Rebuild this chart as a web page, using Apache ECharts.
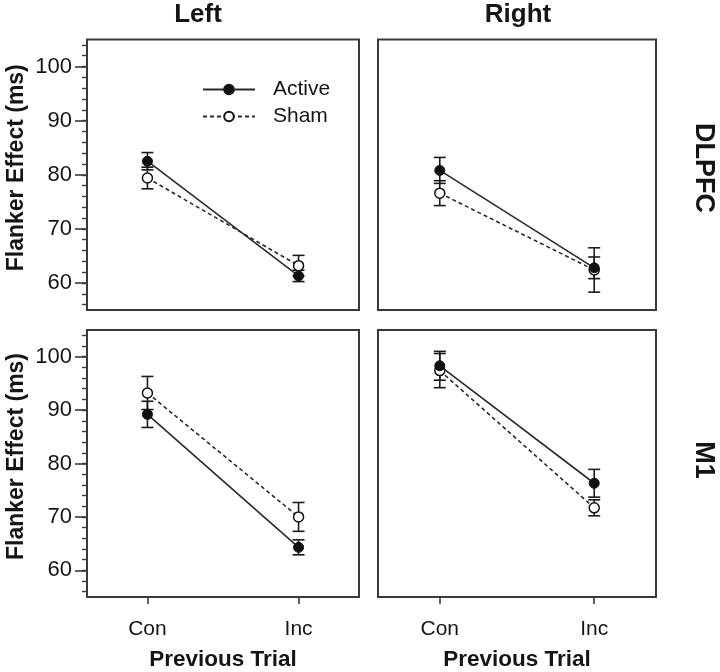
<!DOCTYPE html>
<html>
<head>
<meta charset="utf-8">
<script src="https://cdn.jsdelivr.net/npm/echarts@6/dist/echarts.min.js"></script>
<style>
html,body{margin:0;padding:0;background:#fff;}
#chart{width:720px;height:672px;}
</style>
</head>
<body>
<div id="chart"></div>
<script>
// ---- data ----
const trials = ['Con', 'Inc'];
const hemispheres = ['Left', 'Right'];
const regions = ['DLPFC', 'M1'];
const yTicks = [60, 70, 80, 90, 100];
const yMinorTicks = [56, 58, 60, 62, 64, 66, 68, 70, 72, 74, 76, 78, 80, 82, 84, 86, 88, 90, 92, 94, 96, 98, 100, 102, 104];

const activeLeftDLPFC = [82.5, 61.3];
const activeLeftDLPFCErr = [1.6, 1.05];
const shamLeftDLPFC = [79.4, 63.2];
const shamLeftDLPFCErr = [2.0, 1.9];

const activeRightDLPFC = [80.8, 62.8];
const activeRightDLPFCErr = [2.4, 2.0];
const shamRightDLPFC = [76.6, 62.4];
const shamRightDLPFCErr = [2.3, 4.1];

const activeLeftM1 = [89.2, 64.3];
const activeLeftM1Err = [2.45, 1.4];
const shamLeftM1 = [93.2, 70.0];
const shamLeftM1Err = [3.1, 2.7];

const activeRightM1 = [98.3, 76.3];
const activeRightM1Err = [2.7, 2.6];
const shamRightM1 = [97.4, 71.7];
const shamRightM1Err = [3.2, 1.5];

// ---- panels ----
const panels = [
  { active: activeLeftDLPFC, activeErr: activeLeftDLPFCErr, sham: shamLeftDLPFC, shamErr: shamLeftDLPFCErr },
  { active: activeRightDLPFC, activeErr: activeRightDLPFCErr, sham: shamRightDLPFC, shamErr: shamRightDLPFCErr },
  { active: activeLeftM1, activeErr: activeLeftM1Err, sham: shamLeftM1, shamErr: shamLeftM1Err },
  { active: activeRightM1, activeErr: activeRightM1Err, sham: shamRightM1, shamErr: shamRightM1Err }
];

const FONT = '"Liberation Sans", Arial, Helvetica, sans-serif';
const INK = '#151515';
const FRAME = '#3a3a3a';

const gridBoxes = [
  { left: 87, top: 39.5, width: 272, height: 270.5 },
  { left: 378, top: 39.5, width: 278, height: 270.5 },
  { left: 87, top: 330, width: 272, height: 269 },
  { left: 378, top: 330, width: 278, height: 269 }
];

const grids = gridBoxes.map(b => Object.assign({
  show: true, borderColor: FRAME, borderWidth: 2, backgroundColor: 'transparent', containLabel: false
}, b));

const xAxes = [];
const yAxes = [];
const series = [];

function errorRender(params, api) {
  const x = api.value(0), m = api.value(1), e = api.value(2);
  const top = api.coord([x, m + e]);
  const bot = api.coord([x, m - e]);
  const hw = 6;
  const style = { stroke: '#1a1a1a', lineWidth: 1.6, fill: null };
  return {
    type: 'group',
    children: [
      { type: 'line', shape: { x1: top[0], y1: top[1], x2: bot[0], y2: bot[1] }, style },
      { type: 'line', shape: { x1: top[0] - hw, y1: top[1], x2: top[0] + hw, y2: top[1] }, style },
      { type: 'line', shape: { x1: bot[0] - hw, y1: bot[1], x2: bot[0] + hw, y2: bot[1] }, style }
    ]
  };
}

panels.forEach((p, i) => {
  const isBottom = i >= 2;
  const isLeft = i % 2 === 0;
  xAxes.push({
    gridIndex: i, type: 'value', min: -0.4, max: 1.4, position: 'bottom',
    show: isBottom,
    axisLine: { show: false, onZero: false },
    axisTick: { show: true, customValues: [0, 1], length: 7, lineStyle: { color: FRAME, width: 1.6 } },
    axisLabel: { show: true, customValues: [0, 1], formatter: v => trials[Math.round(v)], margin: 22,
      fontSize: 21, color: INK, fontFamily: FONT },
    splitLine: { show: false },
    name: isBottom ? 'Previous Trial' : '', nameLocation: 'middle', nameGap: 51,
    nameTextStyle: { fontSize: 22.5, fontWeight: 'bold', color: INK, fontFamily: FONT }
  });
  yAxes.push({
    gridIndex: i, type: 'value', min: 55, max: 105, position: 'left',
    show: isLeft,
    axisLine: { show: false, onZero: false },
    axisTick: { show: true, customValues: yTicks, length: 12, lineStyle: { color: FRAME, width: 1.6 } },
    axisLabel: { show: true, customValues: yTicks, margin: 15, fontSize: 22, color: INK, fontFamily: FONT },
    splitLine: { show: false },
    name: isLeft ? 'Flanker Effect (ms)' : '', nameLocation: 'middle', nameGap: 59,
    nameTextStyle: { fontSize: 23, fontWeight: 'bold', color: INK, fontFamily: FONT, padding: [0, 0, 0, 14] }
  });
  yAxes.push({
    gridIndex: i, type: 'value', min: 55, max: 105, position: 'left', offset: 0,
    show: isLeft,
    axisLine: { show: false, onZero: false },
    axisTick: { show: true, customValues: yMinorTicks, length: 5, lineStyle: { color: FRAME, width: 1.4 } },
    axisLabel: { show: false },
    splitLine: { show: false }
  });

  const actErr = trials.map((t, k) => [k, p.active[k], p.activeErr[k]]);
  const shamErr = trials.map((t, k) => [k, p.sham[k], p.shamErr[k]]);
  series.push({
    type: 'custom', name: 'ActiveErr', xAxisIndex: i, yAxisIndex: 2 * i, renderItem: errorRender,
    data: actErr, z: 1, silent: true, encode: { x: 0, y: 1 }
  });
  series.push({
    type: 'custom', name: 'ShamErr', xAxisIndex: i, yAxisIndex: 2 * i, renderItem: errorRender,
    data: shamErr, z: 1, silent: true, encode: { x: 0, y: 1 }
  });
  series.push({
    type: 'line', name: 'Sham', xAxisIndex: i, yAxisIndex: 2 * i,
    data: trials.map((t, k) => [k, p.sham[k]]),
    symbol: 'circle', symbolSize: 10,
    itemStyle: { color: '#ffffff', borderColor: '#111', borderWidth: 1.5 },
    lineStyle: { color: '#2a2a2a', width: 1.6, type: [4, 3] },
    z: 3
  });
  series.push({
    type: 'line', name: 'Active', xAxisIndex: i, yAxisIndex: 2 * i,
    data: trials.map((t, k) => [k, p.active[k]]),
    symbol: 'circle', symbolSize: 10,
    itemStyle: { color: '#111', borderColor: '#111', borderWidth: 1 },
    lineStyle: { color: '#2a2a2a', width: 1.6, type: 'solid' },
    z: 4
  });
});

const graphics = [
  { type: 'text', x: 198, y: 15, style: { text: hemispheres[0], font: 'bold 26px ' + FONT, fill: INK, textAlign: 'center', textVerticalAlign: 'middle' } },
  { type: 'text', x: 518, y: 15, style: { text: hemispheres[1], font: 'bold 26px ' + FONT, fill: INK, textAlign: 'center', textVerticalAlign: 'middle' } },
  { type: 'text', x: 703, y: 168, rotation: -Math.PI / 2, style: { text: regions[0], font: 'bold 27px ' + FONT, fill: INK, textAlign: 'center', textVerticalAlign: 'middle' } },
  { type: 'text', x: 703, y: 460, rotation: -Math.PI / 2, style: { text: regions[1], font: 'bold 27px ' + FONT, fill: INK, textAlign: 'center', textVerticalAlign: 'middle' } }
];

const chart = echarts.init(document.getElementById('chart'), null, { renderer: 'canvas' });
chart.setOption({
  animation: false,
  backgroundColor: '#ffffff',
  grid: grids,
  xAxis: xAxes,
  yAxis: yAxes,
  legend: {
    data: ['Active', 'Sham'], orient: 'vertical', left: 197, top: 74,
    itemWidth: 52, itemHeight: 12, itemGap: 6, selectedMode: false,
    textStyle: { fontSize: 21, color: INK, fontFamily: FONT, padding: [0, 0, 0, 13] }
  },
  graphic: graphics,
  series: series
});
</script>
</body>
</html>
